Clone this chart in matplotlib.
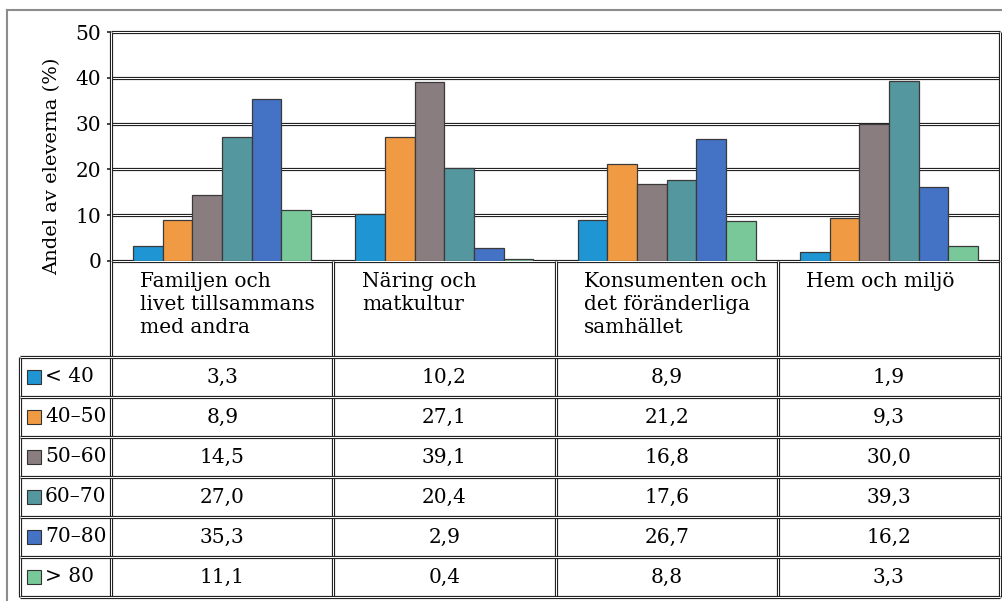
import matplotlib.pyplot as plt
from matplotlib.lines import Line2D
from matplotlib.patches import Rectangle

# data
categories = ["Familjen och\nlivet tillsammans\nmed andra", "Näring och\nmatkultur",
              "Konsumenten och\ndet föränderliga\nsamhället", "Hem och miljö"]
groups = ["< 40", "40–50", "50–60", "60–70", "70–80", "> 80"]
values = {
    "< 40":  [3.3, 10.2, 8.9, 1.9],
    "40–50": [8.9, 27.1, 21.2, 9.3],
    "50–60": [14.5, 39.1, 16.8, 30.0],
    "60–70": [27.0, 20.4, 17.6, 39.3],
    "70–80": [35.3, 2.9, 26.7, 16.2],
    "> 80":  [11.1, 0.4, 8.8, 3.3],
}
colors = ["#1f95d3", "#f09b43", "#897d80", "#55979e", "#4472c4", "#79c899"]
yticks = [0, 10, 20, 30, 40, 50]

plt.rcParams['font.family'] = ['DejaVu Serif']
FS = 14.5
W, H = 1003, 601

fig = plt.figure(figsize=(W / 100, H / 100), dpi=100)


def dline(ax, xs, ys, **kw):
    # double rule: dark line with a white core
    ax.plot(xs, ys, color="#222222", lw=2.3, solid_capstyle="butt", clip_on=False, **kw)
    ax.plot(xs, ys, color="white", lw=0.7, solid_capstyle="butt", clip_on=False, **kw)


# ---- bar chart ----
ax = fig.add_axes([111 / W, (H - 261) / H, 889 / W, (261 - 32) / H])
ax.set_xlim(0, 4)
ax.set_ylim(0, 50)
for s in ax.spines.values():
    s.set_visible(False)
ax.set_xticks([])
ax.set_yticks(yticks)
ax.set_yticklabels([str(t) for t in yticks], fontsize=FS)
ax.tick_params(axis="y", length=3, width=1.2, color="#222222", pad=4)

for t in yticks:
    dline(ax, [0, 4], [t, t], zorder=1)
dline(ax, [0, 0], [0, 50], zorder=4)
dline(ax, [4, 4], [0, 50], zorder=4)

n = len(groups)
bw = 0.8 / n
for j, g in enumerate(groups):
    xs = [i + 0.5 + (j - (n - 1) / 2) * bw for i in range(len(categories))]
    ax.bar(xs, values[g], width=bw, color=colors[j], edgecolor="#3a3a3a",
           linewidth=0.9, zorder=3)

# ---- table ----
tx0 = -91 / 222
tab = fig.add_axes([20 / W, 4 / H, 980 / W, (597 - 261) / H])
tab.set_xlim(tx0, 4 + 0.0)
tab.set_ylim(336, 0)
tab.axis("off")

head_h = 96
row_h = 40
bottom = head_h + row_h * len(groups)

# vertical rules
for c in range(len(categories) + 1):
    dline(tab, [c, c], [0, bottom])
dline(tab, [tx0, tx0], [head_h, bottom])
# horizontal rules
for r in range(len(groups) + 1):
    y = head_h + r * row_h
    dline(tab, [tx0, 4], [y, y])

for i, cat in enumerate(categories):
    tab.text(i + 0.128, 11, cat, ha="left", va="top", fontsize=FS, linespacing=1.28)

for r, g in enumerate(groups):
    yc = head_h + (r + 0.5) * row_h
    tab.add_patch(Rectangle((tx0 + 7 / 222, yc - 7), 14 / 222, 14,
                            facecolor=colors[r], edgecolor="#333333", lw=0.8))
    tab.text(tx0 + 25 / 222, yc, g, ha="left", va="center", fontsize=FS)
    for i in range(len(categories)):
        tab.text(i + 0.5, yc, f"{values[g][i]:.1f}".replace(".", ","),
                 ha="center", va="center", fontsize=FS)

# y-axis label and outer frame
fig.text(52 / W, (H - 166) / H, "Andel av eleverna (%)", rotation=90,
         ha="center", va="center", fontsize=FS - 0.5)
fig.add_artist(Line2D([7 / W, 1], [(H - 10) / H] * 2, color="#8c8c8c", lw=1.5))
fig.add_artist(Line2D([7 / W] * 2, [0, (H - 10) / H], color="#8c8c8c", lw=1.5))

fig.savefig("out.png", dpi=100)
